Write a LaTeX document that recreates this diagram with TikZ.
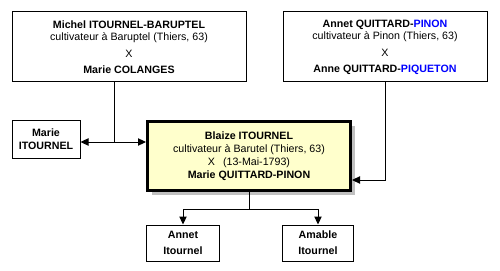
\documentclass[tikz,border=0pt]{standalone}
\usepackage{fontspec}
\setmainfont{Liberation Sans}
\usetikzlibrary{arrows.meta,shadows}
\definecolor{paleyellow}{RGB}{255,255,204}
\definecolor{shadowgrey}{RGB}{192,192,192}
\definecolor{nameblue}{RGB}{0,0,255}

\begin{document}
\begin{tikzpicture}[x=0.75pt, y=-0.75pt, every node/.style={font=\fontsize{8}{9}\selectfont, align=center, inner sep=0pt}, >={Triangle[length=6pt,width=5.5pt]}]
\tikzset{person/.style={draw, line width=0.75pt, fill=white}}
\tikzset{couple/.style={person, minimum height=52.5pt}}
\tikzset{kid/.style={person, font=\fontsize{8}{9}\selectfont\bfseries}}
\tikzset{focus/.style={draw, line width=2.25pt, fill=paleyellow, drop shadow={shadow xshift=3.4pt, shadow yshift=-3.4pt, fill=shadowgrey, opacity=1}}}
\useasboundingbox (0,0) rectangle (500,271);
\node[couple, minimum width=175.5pt] (michel) at (129,47) {\textbf{Michel ITOURNEL-BARUPTEL}\\cultivateur à Baruptel (Thiers, 63)\\[3.5pt]X\\[3pt]\textbf{Marie COLANGES}};
\node[couple, minimum width=153pt] (annet) at (385,47) {\textbf{Annet QUITTARD-\textcolor{nameblue}{PINON}}\\cultivateur à Pinon (Thiers, 63)\\[3.5pt]X\\[3pt]\textbf{Anne QUITTARD-\textcolor{nameblue}{PIQUETON}}};
\node[kid, minimum width=51pt, minimum height=27.75pt] (marie) at (46,139.5) {Marie\\[1pt]ITOURNEL};
\node[focus, minimum width=152.25pt, minimum height=51.75pt] (blaize) at (249,156) {\textbf{Blaize ITOURNEL}\\[0.5pt]cultivateur à Barutel (Thiers, 63)\\[0.75pt]X\hspace{0.75em}(13-Mai-1793)\\[0.75pt]\textbf{Marie QUITTARD-PINON}};
\node[kid, minimum width=54.75pt, minimum height=27pt] (annetI) at (183,243) {Annet\\[3pt]Itournel};
\node[kid, minimum width=53.25pt, minimum height=27pt] (amable) at (318,243) {Amable\\[3pt]Itournel};
\coordinate (jl) at (114,142);
\coordinate (jr) at (385,180);
\coordinate (jb) at (249,209);
\draw[line width=0.75pt] (michel.south -| jl) -- (jl);
\draw[line width=0.75pt, ->] (jl) -- (jl -| marie.east);
\draw[line width=0.75pt, ->] (jl) -- (jl -| blaize.west);
\draw[line width=0.75pt, ->] (annet.south) |- (jr -| blaize.east);
\draw[line width=0.75pt] (blaize.south) -- (jb);
\draw[line width=0.75pt, ->] (jb) -| (annetI.north);
\draw[line width=0.75pt, ->] (jb) -| (amable.north);
\end{tikzpicture}
\end{document}
